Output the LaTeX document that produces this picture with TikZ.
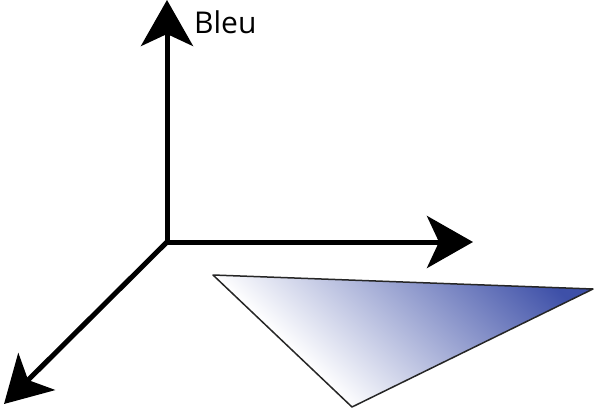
\documentclass[tikz,border=0pt]{standalone}
\usepackage{fontspec}
\setmainfont{Open Sans}
\usetikzlibrary{arrows.meta}
\definecolor{triblue}{RGB}{62,80,168}
\pgfdeclarehorizontalshading{trishade}{600bp}{color(0bp)=(white); color(228bp)=(triblue); color(260bp)=(triblue)}
\tikzset{
  axis/.style={line width=5pt, -{Stealth[length=46pt, width=52pt, inset=12pt]}},
  tri/.style={draw=black!85, line width=1.5pt, line join=round},
}
\begin{document}
\begin{tikzpicture}[x=1pt,y=-1pt]
\useasboundingbox (0,0) rectangle (595,410);
\coordinate (O) at (167,242);
\coordinate (up) at (167,0);
\coordinate (right) at (473,242);
\coordinate (down) at (4,404);
\coordinate (A) at (213,275);
\coordinate (B) at (593,289);
\coordinate (C) at (352,407);
\begin{scope}
\clip (A) -- (B) -- (C) -- cycle;
\node[anchor=west, rotate=46, inner sep=0pt, outer sep=0pt] (grad) at (A) {\pgfuseshading{trishade}};
\end{scope}
\draw[tri] (A) -- (B) -- (C) -- cycle;
\draw[axis] (O) -- (up);
\draw[axis] (O) -- (right);
\draw[axis] (O) -- (down);
\draw[line width=5pt] (169.5,242) -- (O);
\node[anchor=west, font=\fontsize{30}{34}\selectfont, inner sep=0pt] (bleu) at (194,22) {Bleu};
\end{tikzpicture}
\end{document}
